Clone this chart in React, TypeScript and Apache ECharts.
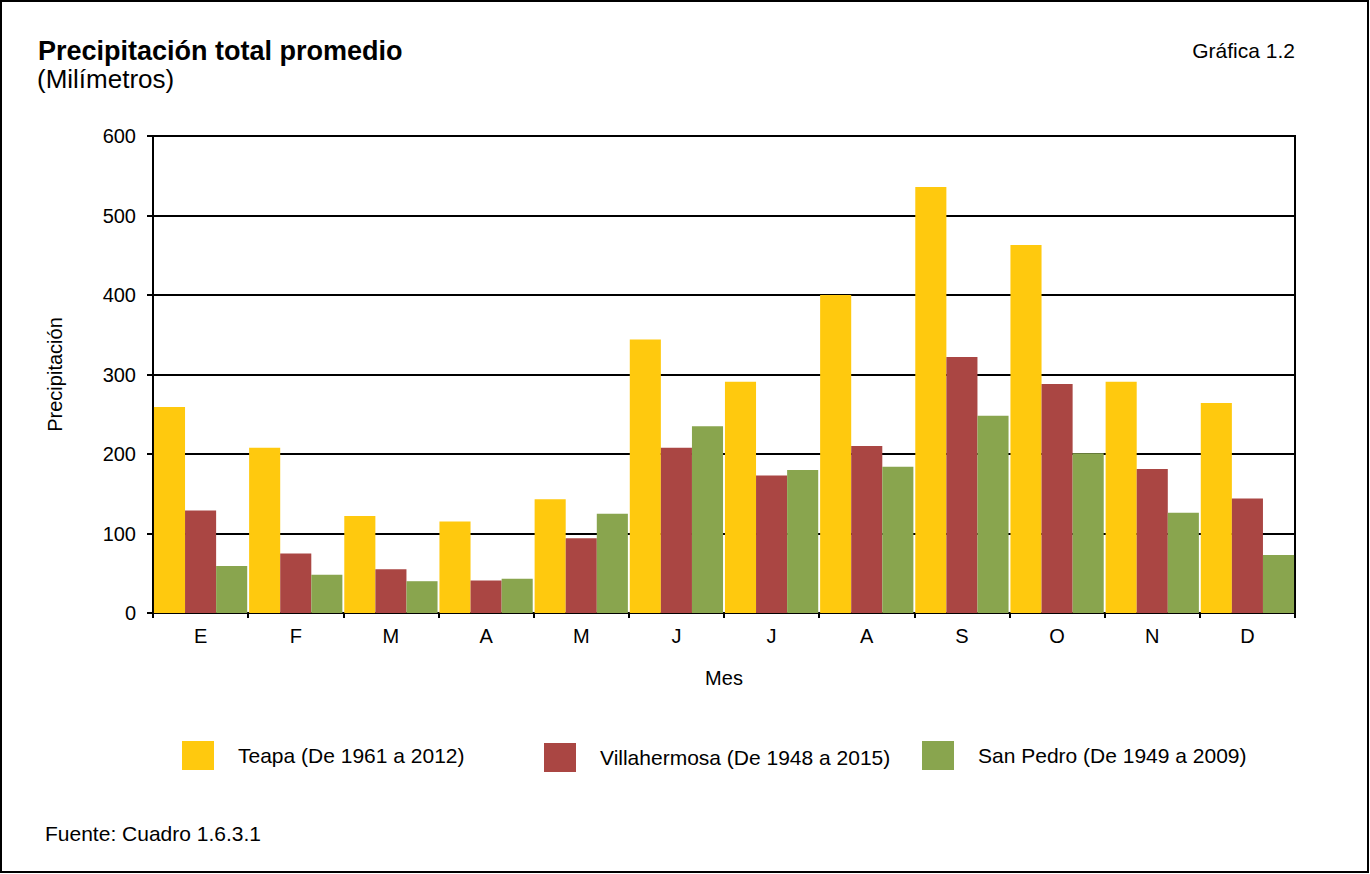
import React, { useEffect, useRef } from "react";
import * as echarts from "echarts";

const categories = ["E", "F", "M", "A", "M", "J", "J", "A", "S", "O", "N", "D"];
const teapa = [259, 208, 122, 115, 143, 344, 291, 400, 536, 463, 291, 264];
const villahermosa = [129, 75, 55, 41, 94, 208, 173, 210, 322, 288, 181, 144];
const sanPedro = [59, 48, 40, 43, 125, 235, 180, 184, 248, 201, 126, 73];
const seriesNames = [
  "Teapa (De 1961 a 2012)",
  "Villahermosa (De 1948 a 2015)",
  "San Pedro (De 1949 a 2009)",
];
const colors = ["#FFC90E", "#AA4643", "#89A54E"];

const FONT = "'Liberation Sans', Arial, sans-serif";

export default function App() {
  const ref = useRef<HTMLDivElement>(null);
  useEffect(() => {
    if (!ref.current) return;
    const chart = echarts.init(ref.current, undefined, { renderer: "svg" });
    const legendBase = (name: string, left: number, top: number) => ({
      data: [name],
      left,
      top,
      orient: "horizontal",
      padding: 0,
      itemWidth: 32,
      itemHeight: 29,
      icon: "rect",
      selectedMode: false,
      textStyle: {
        fontSize: 21,
        fontFamily: FONT,
        color: "#000",
        padding: [8, 0, 0, 19],
      },
    });
    const data = [teapa, villahermosa, sanPedro];
    chart.setOption({
      animation: false,
      backgroundColor: "#fff",
      textStyle: { fontFamily: FONT },
      grid: {
        left: 153,
        right: 75,
        top: 136,
        bottom: 261,
        show: true,
        borderColor: "#000",
        borderWidth: 2,
        containLabel: false,
      },
      legend: [
        legendBase(seriesNames[0], 182, 741),
        legendBase(seriesNames[1], 544, 743),
        legendBase(seriesNames[2], 922, 741),
      ],
      xAxis: {
        type: "category",
        data: categories,
        name: "Mes",
        nameLocation: "middle",
        nameGap: 55,
        nameTextStyle: { fontSize: 20, color: "#000", fontFamily: FONT },
        axisLine: { lineStyle: { color: "#000", width: 2 } },
        axisTick: { show: true, length: 5, lineStyle: { color: "#000", width: 2 } },
        axisLabel: { fontSize: 20, color: "#000", margin: 13, fontFamily: FONT },
      },
      yAxis: {
        type: "value",
        min: 0,
        max: 600,
        interval: 100,
        name: "Precipitación",
        nameLocation: "middle",
        nameGap: 88,
        nameRotate: 90,
        nameTextStyle: { fontSize: 20, color: "#000", fontFamily: FONT },
        axisLine: { show: true, lineStyle: { color: "#000", width: 2 } },
        axisTick: { show: true, length: 6, lineStyle: { color: "#000", width: 2 } },
        axisLabel: { fontSize: 20, color: "#000", margin: 17, fontFamily: FONT },
        splitLine: { show: true, lineStyle: { color: "#000", width: 2 } },
      },
      series: seriesNames.map((name, i) => ({
        name,
        type: "bar",
        data: data[i],
        barGap: "0%",
        barCategoryGap: "2%",
        itemStyle: { color: colors[i] },
      })),
      graphic: [
        {
          type: "rect",
          shape: { x: 1, y: 1, width: 1367, height: 871 },
          style: { fill: "none", stroke: "#000", lineWidth: 2 },
          silent: true,
        },
        {
          type: "text",
          x: 38,
          y: 51,
          style: {
            text: "Precipitación total promedio",
            fontSize: 27,
            fontWeight: "bold",
            fontFamily: FONT,
            fill: "#000",
            textAlign: "left",
            textVerticalAlign: "middle",
          },
        },
        {
          type: "text",
          x: 37,
          y: 79,
          style: {
            text: "(Milímetros)",
            fontSize: 26,
            fontFamily: FONT,
            fill: "#000",
            textAlign: "left",
            textVerticalAlign: "middle",
          },
        },
        {
          type: "text",
          x: 1295,
          y: 50,
          style: {
            text: "Gráfica 1.2",
            fontSize: 21,
            fontFamily: FONT,
            fill: "#000",
            textAlign: "right",
            textVerticalAlign: "middle",
          },
        },
        {
          type: "text",
          x: 45,
          y: 833,
          style: {
            text: "Fuente: Cuadro 1.6.3.1",
            fontSize: 21,
            fontFamily: FONT,
            fill: "#000",
            textAlign: "left",
            textVerticalAlign: "middle",
          },
        },
      ],
    });
    return () => chart.dispose();
  }, []);
  return (
    <div
      ref={ref}
      style={{ position: "fixed", left: 0, top: 0, width: 1370, height: 874 }}
    />
  );
}
